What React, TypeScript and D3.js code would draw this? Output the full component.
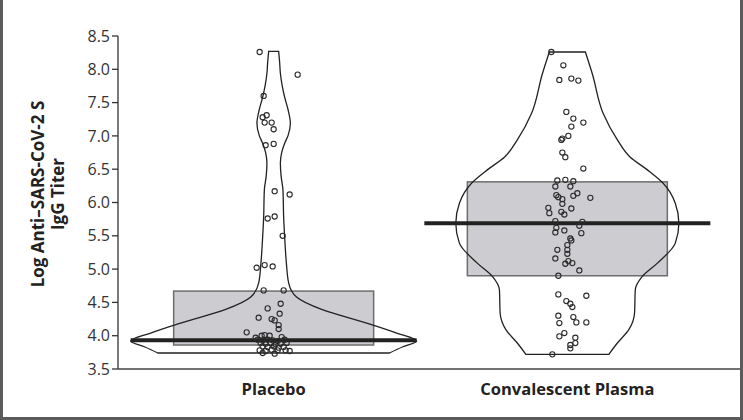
import * as d3 from 'd3';
import React from 'react';

// groups shown on the x axis
const groups = ['Placebo', 'Convalescent Plasma'];

// y axis ticks
const yTicks = [3.5, 4.0, 4.5, 5.0, 5.5, 6.0, 6.5, 7.0, 7.5, 8.0, 8.5];

// box summaries [q1, median, q3]
const placeboBox = [3.86, 3.93, 4.67];
const plasmaBox = [4.9, 5.69, 6.31];

// violin outlines: [titer, relative density]
const placeboDensity: [number, number][] = [
  [8.27, 0.035], [8.1, 0.042], [7.94, 0.047], [7.75, 0.06], [7.58, 0.077],
  [7.4, 0.1], [7.19, 0.117], [7.0, 0.1], [6.89, 0.077], [6.75, 0.056],
  [6.59, 0.047], [6.4, 0.052], [6.19, 0.065], [5.78, 0.07], [5.48, 0.077],
  [5.09, 0.089], [4.79, 0.105], [4.58, 0.16], [4.39, 0.34], [4.19, 0.65],
  [4.04, 0.86], [3.92, 1.0], [3.83, 0.9], [3.74, 0.81],
];
const plasmaDensity: [number, number][] = [
  [8.26, 0.126], [7.93, 0.175], [7.34, 0.25], [6.94, 0.35], [6.68, 0.44],
  [6.49, 0.56], [6.29, 0.67], [5.99, 0.755], [5.69, 0.78], [5.39, 0.755],
  [5.09, 0.63], [4.88, 0.52], [4.69, 0.475], [4.34, 0.47], [4.09, 0.43],
  [3.89, 0.35], [3.72, 0.29],
];

// individual patients: [titer, jitter]
const placeboPoints: [number, number][] = [
  [8.26, -0.14], [7.92, 0.24], [7.6, -0.1], [7.28, -0.11], [7.31, -0.07],
  [7.2, -0.09], [7.2, -0.02], [7.1, 0.0], [6.86, -0.08], [6.88, 0.0],
  [6.17, 0.01], [6.12, 0.16], [5.76, -0.06], [5.79, 0.01], [5.5, 0.09],
  [5.02, -0.17], [5.06, -0.09], [5.04, -0.01], [4.68, -0.1], [4.68, 0.1],
  [4.41, -0.06], [4.48, 0.07], [4.27, -0.15], [4.25, -0.02], [4.33, 0.06],
  [4.23, 0.01], [4.16, 0.05], [4.1, 0.05], [4.05, -0.27],
  [4.0, -0.12], [4.01, -0.09], [4.0, -0.04], [3.97, -0.18], [3.98, 0.08],
  [3.94, -0.16], [3.93, -0.11], [3.94, -0.06], [3.93, -0.01], [3.92, 0.04], [3.94, 0.11],
  [3.89, -0.13], [3.88, -0.08], [3.89, -0.03], [3.87, 0.02], [3.88, 0.07], [3.89, 0.13],
  [3.84, -0.11], [3.83, -0.06], [3.84, 0.0], [3.82, 0.05], [3.83, 0.1],
  [3.78, -0.14], [3.77, -0.08], [3.79, -0.02], [3.78, 0.04], [3.78, 0.12], [3.77, 0.16],
  [3.74, -0.11], [3.73, 0.01],
];
const plasmaPoints: [number, number][] = [
  [8.26, -0.16], [8.06, -0.04], [7.84, -0.08], [7.86, 0.04], [7.83, 0.11],
  [7.36, -0.01], [7.26, 0.06], [7.2, 0.16], [7.14, 0.04], [6.94, -0.06],
  [6.96, -0.05], [7.0, 0.01], [6.75, -0.05], [6.68, -0.02], [6.51, 0.16],
  [6.33, -0.1], [6.34, -0.02], [6.32, 0.06], [6.24, -0.12], [6.24, 0.03],
  [6.11, -0.11], [6.08, -0.09], [6.05, -0.05], [6.1, 0.06], [6.14, 0.1],
  [6.07, 0.23], [5.98, -0.05], [5.92, -0.19], [5.84, -0.18], [5.86, -0.06],
  [5.82, -0.03], [5.91, 0.04], [5.72, -0.12], [5.71, 0.15], [5.65, 0.12],
  [5.62, -0.11], [5.55, -0.12], [5.58, -0.03], [5.54, 0.14], [5.46, 0.03],
  [5.43, 0.04], [5.36, 0.0], [5.29, 0.0], [5.29, -0.1], [5.23, 0.0],
  [5.16, -0.12], [5.12, 0.01], [5.08, -0.02], [5.09, 0.05], [4.98, 0.12],
  [4.9, -0.09], [4.62, -0.09], [4.6, 0.19], [4.52, -0.01], [4.48, 0.03],
  [4.43, 0.05], [4.3, -0.09], [4.28, 0.06], [4.19, -0.08], [4.2, 0.09],
  [4.2, 0.19], [3.99, -0.08], [4.04, -0.03], [3.97, 0.08], [3.89, 0.08],
  [3.86, 0.03], [3.81, 0.03], [3.72, -0.15],
];

const W = 743;
const H = 420;
const font = '"Open Sans", sans-serif';

export default function App() {
  const y = d3.scaleLinear().domain([3.5, 8.5]).range([369, 36]);
  const x = d3.scalePoint().domain(groups).range([118, 723]).padding(0.53);
  const wid = d3.scaleLinear().domain([0, 1]).range([0, 143]);
  const jit = d3.scaleLinear().domain([-1, 1]).range([-100, 100]);

  const series = [
    { name: groups[0], box: placeboBox, dens: placeboDensity, pts: placeboPoints },
    { name: groups[1], box: plasmaBox, dens: plasmaDensity, pts: plasmaPoints },
  ];

  return (
    <svg width={W} height={H} style={{ position: 'absolute', left: 0, top: 0, background: '#fff' }}>
      {series.map((s) => {
        const cx = x(s.name)!;
        const sorted = [...s.dens].sort((a, b) => b[0] - a[0]);
        const violin = d3.area<[number, number]>()
          .y((d) => y(d[0]))
          .x0((d) => cx - wid(d[1]))
          .x1((d) => cx + wid(d[1]))
          .curve(d3.curveMonotoneY);
        return (
          <g key={s.name}>
            <rect x={cx + jit(-1)} y={y(s.box[2])} width={jit(1) - jit(-1)}
              height={y(s.box[0]) - y(s.box[2])}
              fill="#cdcdd1" stroke="#6d6d6d" strokeWidth={1.5} />
            <path d={violin(sorted)!} fill="none" stroke="#222" strokeWidth={1.3} />
            <line x1={cx - wid(1)} x2={cx + wid(1)} y1={y(s.box[1])} y2={y(s.box[1])}
              stroke="#222" strokeWidth={4} />
            {s.pts.map((p, i) => (
              <circle key={i} cx={cx + jit(p[1])} cy={y(p[0])} r={2.6}
                fill="none" stroke="#2a2a2a" strokeWidth={1.1} />
            ))}
          </g>
        );
      })}

      {/* y axis */}
      <line x1={118} x2={118} y1={y(8.5)} y2={y(3.5)} stroke="#333" strokeWidth={1.3} />
      {yTicks.map((t) => (
        <g key={t} transform={`translate(118,${y(t)})`}>
          <line x1={-6} x2={0} stroke="#333" strokeWidth={1.3} />
          <text x={-8} dy="0.35em" textAnchor="end" fontFamily={font} fontSize={16} fill="#333">
            {d3.format('.1f')(t)}
          </text>
        </g>
      ))}
      {/* x axis */}
      <line x1={118} x2={W} y1={y(3.5)} y2={y(3.5)} stroke="#444" strokeWidth={1.5} />
      {groups.map((g) => (
        <text key={g} x={x(g)} y={395} textAnchor="middle" fontFamily={font}
          fontWeight={700} fontSize={16.5} fill="#222">{g}</text>
      ))}

      <g transform="translate(0,194) rotate(-90)" fontFamily={font} fontWeight={700}
        fontSize={17} fill="#222" textAnchor="middle">
        <text x={0} y={44}>Log Anti–SARS-CoV-2 S</text>
        <text x={0} y={64}>IgG Titer</text>
      </g>

      {/* frame */}
      <rect x={0} y={0} width={3} height={H} fill="#5b5b5b" />
      <rect x={W - 3} y={0} width={3} height={H} fill="#5b5b5b" />
      <rect x={0} y={H - 3} width={W} height={3} fill="#5b5b5b" />
    </svg>
  );
}
